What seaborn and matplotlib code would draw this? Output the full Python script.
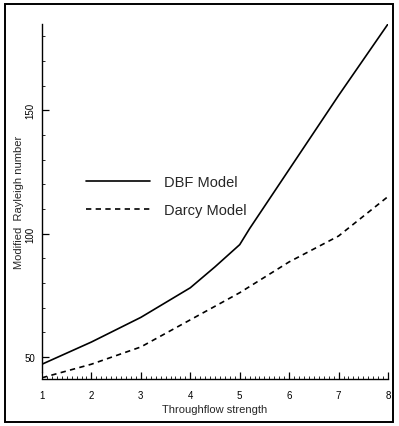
import matplotlib
matplotlib.use("Agg")
import matplotlib.pyplot as plt
from matplotlib.patches import Rectangle
from matplotlib.ticker import MultipleLocator, FixedLocator
import seaborn as sns
import pandas as pd

throughflow = [1, 2, 3, 4, 4.5, 5, 5.2, 6, 7, 8]
dbf_model = [47, 56, 66, 78, 86.5, 95.5, 102, 126, 156, 185]
darcy_model = [41.5, 47, 54, 65, 70.5, 76, 78.5, 88.5, 99, 115]
series_names = ["DBF Model", "Darcy Model"]
x_ticks = [1, 2, 3, 4, 5, 6, 7, 8]
y_ticks = [50, 100, 150]

df = pd.DataFrame({
    "x": throughflow * 2,
    "y": dbf_model + darcy_model,
    "model": [series_names[0]] * len(throughflow) + [series_names[1]] * len(throughflow),
})

sns.set_theme(style="ticks")
plt.rcParams["font.family"] = ["Liberation Sans", "DejaVu Sans"]

fig = plt.figure(figsize=(3.99, 4.27), dpi=100)
ax = fig.add_axes([42 / 399, 1 - 380 / 427, (388 - 42) / 399, (380 - 25) / 427])

sns.lineplot(data=df, x="x", y="y", style="model", color="black",
             dashes={series_names[0]: "", series_names[1]: (3.2, 2.6)},
             linewidth=1.2, ax=ax, legend=False, sort=False)

ax.set_xlim(1, 8)
ax.set_ylim(41, 185)
ax.xaxis.set_major_locator(FixedLocator(x_ticks))
ax.yaxis.set_major_locator(FixedLocator(y_ticks))
ax.xaxis.set_minor_locator(MultipleLocator(0.1))
ax.yaxis.set_minor_locator(MultipleLocator(10))
ax.tick_params(axis="both", which="major", direction="in", length=5, width=0.9,
               labelsize=7, colors="black")
ax.tick_params(axis="x", which="major", pad=8)
ax.tick_params(axis="y", which="major", pad=5)
ax.tick_params(axis="both", which="minor", direction="in", length=2.5, width=0.7)
ax.set_xticklabels([str(v) for v in x_ticks])
ax.set_yticklabels([str(v) for v in y_ticks])
for lab, v in zip(ax.get_yticklabels(), y_ticks):
    if v != 50:
        lab.set_rotation(90)
        lab.set_va("center")

for s in ["top", "right"]:
    ax.spines[s].set_visible(False)
for s in ["left", "bottom"]:
    ax.spines[s].set_color("black")
    ax.spines[s].set_linewidth(1.0)
ax.spines["left"].set_bounds(44, 185)

ax.set_xlabel("Throughflow strength", fontsize=8, labelpad=3)
ax.set_ylabel("Modified  Rayleigh number", fontsize=8, labelpad=0)
ax.grid(False)

handles = ax.get_lines()[:2]
leg = ax.legend(handles, series_names, loc="center left",
                bbox_to_anchor=(0.105, 0.515), frameon=False, fontsize=10.5,
                handlelength=4.4, handletextpad=1.0, labelspacing=1.0, borderpad=0)

fig.patches.append(Rectangle((5 / 399, 4 / 427), 388 / 399, 418 / 427,
                             transform=fig.transFigure, fill=False,
                             edgecolor="black", linewidth=1.4))

fig.savefig("out.png", dpi=100)
